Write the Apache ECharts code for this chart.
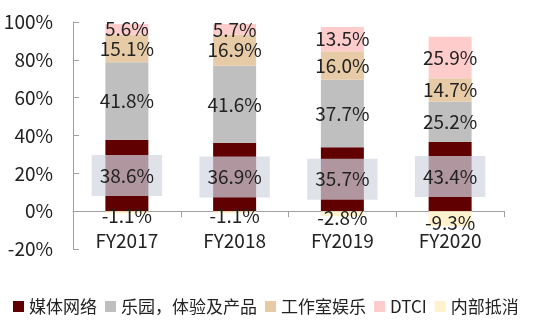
<!DOCTYPE html>
<html><head><meta charset="utf-8">
<script src="https://cdn.jsdelivr.net/npm/echarts@6/dist/echarts.min.js"></script>
<style>html,body{margin:0;padding:0;background:#fff}#c{width:538px;height:322px}</style>
</head><body><div id="c"></div>
<script>
var categories = ['FY2017', 'FY2018', 'FY2019', 'FY2020'];
var media = [38.6, 36.9, 35.7, 43.4];
var parks = [41.8, 41.6, 37.7, 25.2];
var studio = [15.1, 16.9, 16.0, 14.7];
var dtci = [5.6, 5.7, 13.5, 25.9];
var elim = [-1.1, -1.1, -2.8, -9.3];
var yTicks = [-20, 0, 20, 40, 60, 80, 100];
var names = ['媒体网络', '乐园，体验及产品', '工作室娱乐', 'DTCI', '内部抵消'];
var colors = ['#600000', '#bfbfbf', '#e6cba6', '#ffcccc', '#fff2cc'];

var raw = [media, parks, studio, dtci, elim];
// Excel 100% stacked: each value as share of the sum of absolute values
var absSum = categories.map(function (_, i) {
  return raw.reduce(function (s, arr) { return s + Math.abs(arr[i]); }, 0);
});
var FONT = '"Noto Sans CJK SC", "Noto Sans", sans-serif';
var series = raw.map(function (arr, k) {
  var label = {
    show: true,
    position: 'inside',
    color: '#222',
    fontSize: 19,
    fontFamily: FONT,
    formatter: function (p) { return arr[p.dataIndex].toFixed(1) + '%'; }
  };
  if (k === 0) {
    label.backgroundColor = 'rgba(211,213,225,0.7)';
    label.padding = [10, 8];
    label.lineHeight = 21;
  }
  if (k === 4) { label.offset = [0, 4]; }
  return {
    name: names[k],
    type: 'bar',
    stack: 'total',
    barWidth: 43,
    itemStyle: { color: colors[k] },
    label: label,
    data: arr.map(function (v, i) { return v / absSum[i] * 100; })
  };
});

var chart = echarts.init(document.getElementById('c'), null, { renderer: 'canvas' });
chart.setOption({
  animation: false,
  textStyle: { fontFamily: FONT },
  grid: { left: 73, right: 34, top: 22, bottom: 73, containLabel: false },
  legend: {
    left: 8, top: 293,
    itemWidth: 11, itemHeight: 11, itemGap: 8,
    icon: 'rect',
    textStyle: { fontSize: 17, color: '#222', fontFamily: FONT },
    data: names
  },
  xAxis: {
    type: 'category',
    data: categories,
    axisLine: { onZero: true, lineStyle: { color: '#a0a0a0', width: 1 } },
    axisTick: { show: true, inside: false, length: 6, alignWithLabel: false, lineStyle: { color: '#a0a0a0' } },
    axisLabel: { margin: -18, fontSize: 19, color: '#222', fontFamily: FONT }
  },
  yAxis: {
    type: 'value',
    min: yTicks[0], max: yTicks[yTicks.length - 1], interval: 20,
    axisLine: { show: true, lineStyle: { color: '#a0a0a0', width: 1 } },
    axisTick: { show: true, inside: true, length: 6, lineStyle: { color: '#a0a0a0' } },
    splitLine: { show: false },
    axisLabel: { margin: 20, fontSize: 19, color: '#222', fontFamily: FONT, formatter: '{value}%' }
  },
  series: series
});
</script></body></html>
